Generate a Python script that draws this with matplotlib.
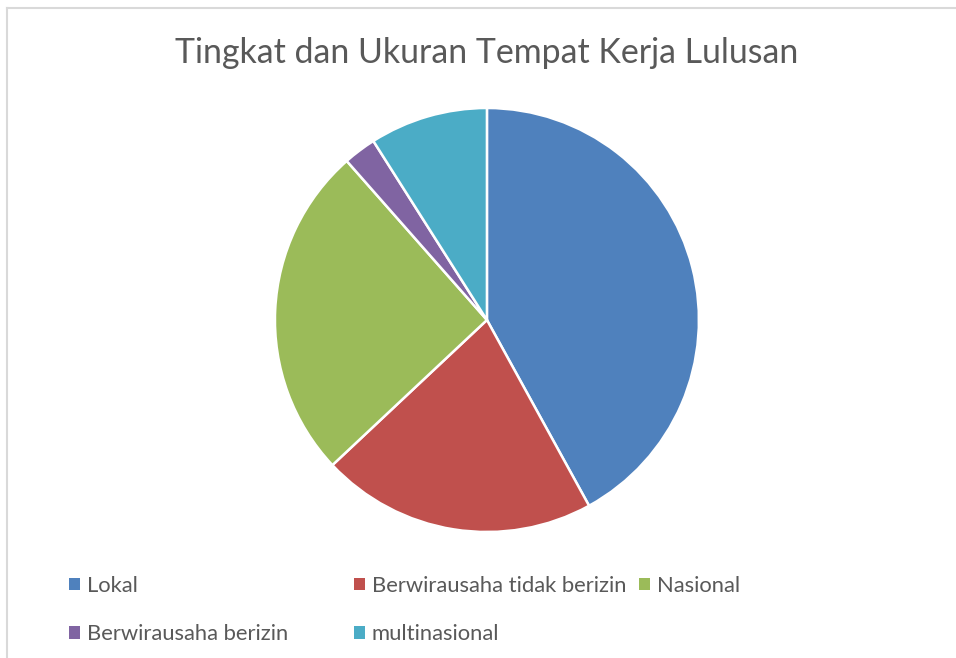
import matplotlib.pyplot as plt
from matplotlib.lines import Line2D

# data
labels = ["Lokal", "Berwirausaha tidak berizin", "Nasional",
          "Berwirausaha berizin", "multinasional"]
values = [42.0, 21.0, 25.5, 2.5, 9.0]
colors = ["#4F81BD", "#C0504D", "#9BBB59", "#8064A2", "#4BACC6"]
title = "Tingkat dan Ukuran Tempat Kerja Lulusan"

text_color = "#595959"
plt.rcParams['font.family'] = ['Lato', 'DejaVu Sans']

fig = plt.figure(figsize=(9.56, 6.58), dpi=100)

# pie area (center ~ (487, 320) px, radius ~212 px)
ax = fig.add_axes([0.2876, 0.1915, 0.4435, 0.6444])
wedges, _ = ax.pie(values, colors=colors, startangle=90, counterclock=False,
                   radius=1.0, wedgeprops=dict(edgecolor='white', linewidth=1.8))
ax.set_xlim(-1, 1)
ax.set_ylim(-1, 1)
ax.set_aspect('equal')
ax.axis('off')

fig.text(0.509, 0.919, title, ha='center', va='center',
         fontsize=24.4, color=text_color)

# legend laid out like the Excel one: three columns, two rows
columns = [[0, 3], [1, 4], [2]]
col_x = [0.0725, 0.3705, 0.6685]
for cols, x in zip(columns, col_x):
    leg = fig.legend([wedges[i] for i in cols], [labels[i] for i in cols],
                     loc='upper left', bbox_to_anchor=(x, 0.1246),
                     bbox_transform=fig.transFigure, frameon=False,
                     fontsize=15.8, handlelength=0.5, handleheight=0.5,
                     handletextpad=0.3, labelspacing=1.29, borderpad=0,
                     borderaxespad=0)
    for t in leg.get_texts():
        t.set_color(text_color)
    for h in leg.legend_handles:
        h.set_edgecolor('none')

# chart border (light gray frame, partially cropped)
fig.add_artist(Line2D([0.0073, 0.0073], [0.0, 0.9886], transform=fig.transFigure,
                      color='#d9d9d9', linewidth=1.5))
fig.add_artist(Line2D([0.0073, 1.0], [0.9886, 0.9886], transform=fig.transFigure,
                      color='#d9d9d9', linewidth=1.5))

fig.savefig("out.png", dpi=100, facecolor='white')
